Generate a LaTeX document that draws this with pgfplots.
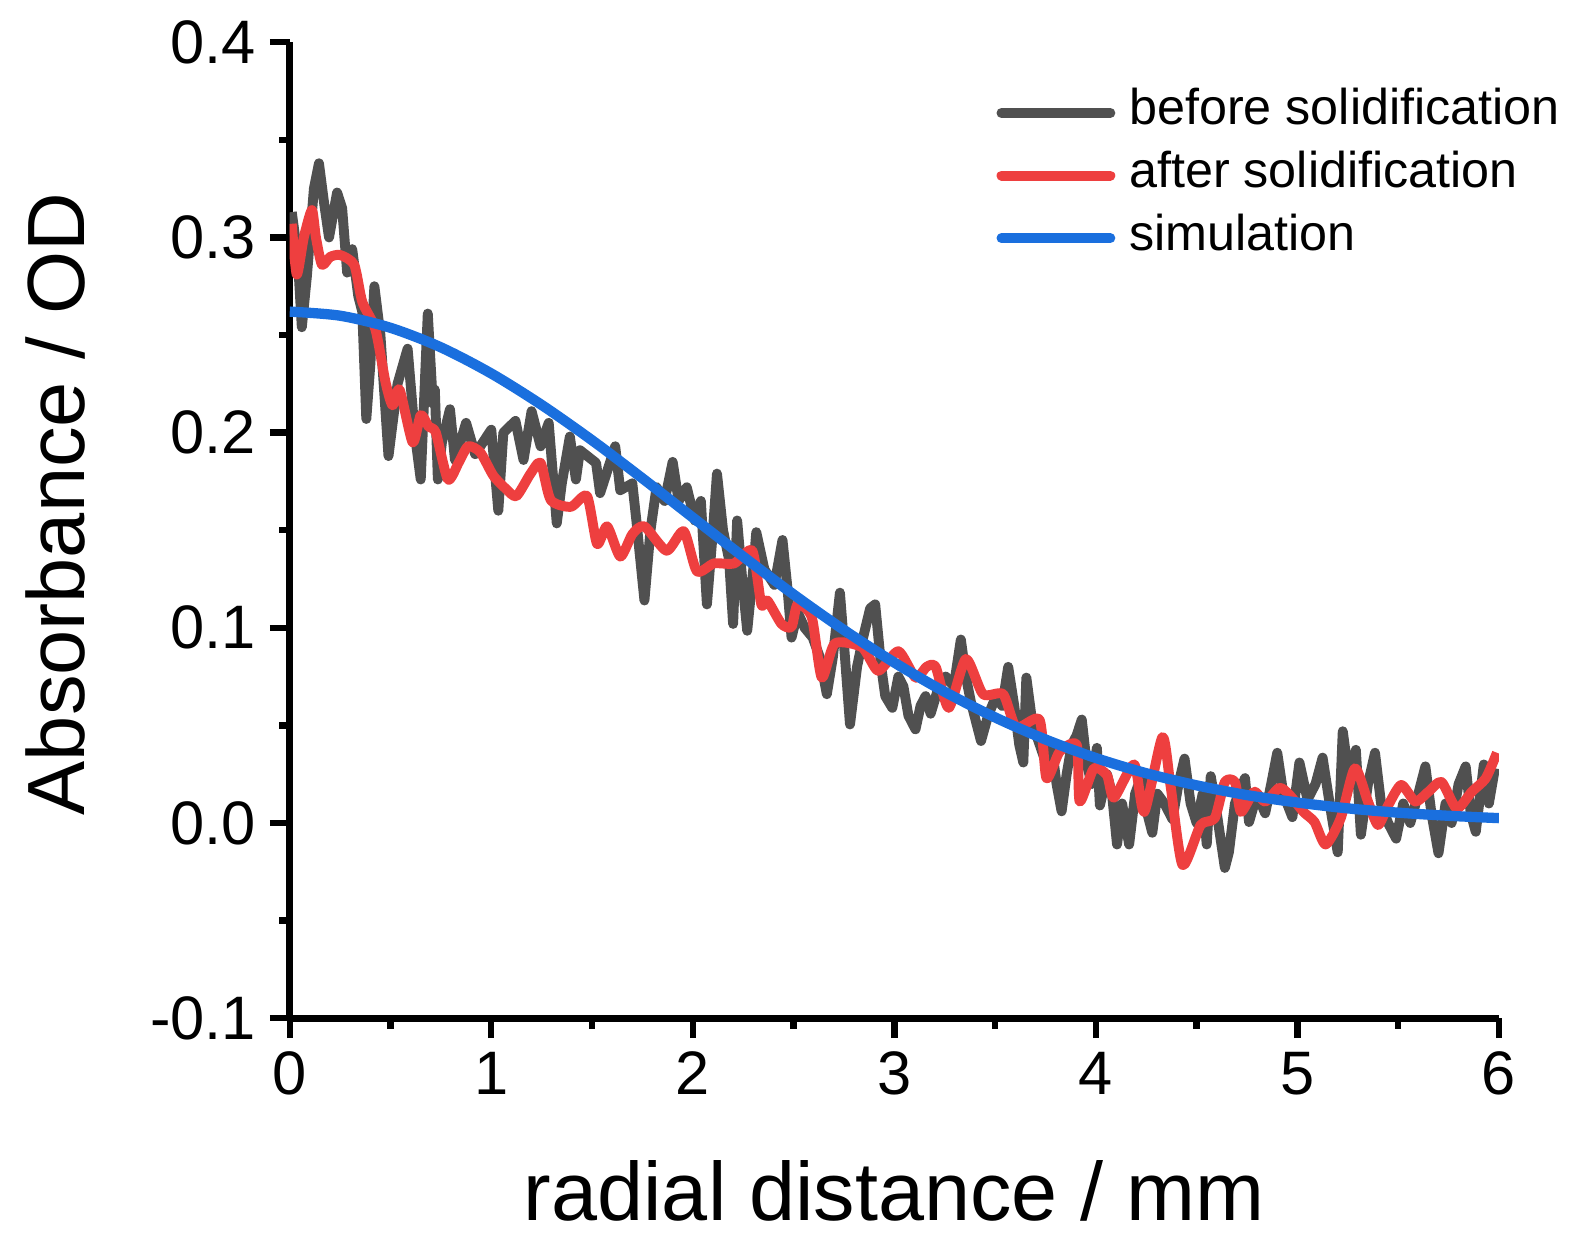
\documentclass[border=0pt]{standalone}
\usepackage{fontspec}
\setmainfont{Liberation Sans}
\usepackage{pgfplots}
\pgfplotsset{compat=1.18}
\definecolor{cgray}{HTML}{505050}
\definecolor{cred}{HTML}{EE3F3F}
\definecolor{cblue}{HTML}{1A6FDE}
\begin{document}
\begin{tikzpicture}
\useasboundingbox (-73.15pt,-58.4pt) rectangle (324.5pt,257.07pt);
\begin{axis}[
  at={(0pt,0pt)}, anchor=south west,
  scale only axis, width=305.3pt, height=246.4pt,
  xmin=0, xmax=6, ymin=-0.1, ymax=0.4,
  axis lines=left, axis line style={-, line width=1.8pt},
  tick align=outside, major tick length=5pt, minor tick length=2.6pt,
  every tick/.style={black, line width=1.6pt},
  xtick={0,1,2,3,4,5,6}, ytick={-0.1,0,0.1,0.2,0.3,0.4},
  minor x tick num=1, minor y tick num=1,
  yticklabels={-0.1,0.0,0.1,0.2,0.3,0.4},
  xticklabels={0,1,2,3,4,5,6},
  tick label style={font=\fontsize{15.5}{18}\selectfont},
  every axis y label/.style={at={(axis description cs:-0.194,0.527)}, rotate=90, anchor=center, font=\fontsize{20.5}{24}\selectfont},
  every axis x label/.style={at={(axis description cs:0.5,-0.207)}, anchor=base, font=\fontsize{20.9}{24}\selectfont},
  xlabel={radial distance / mm},
  ylabel={Absorbance / OD},
  legend image code/.code={\draw[#1, line width=2.5pt, line cap=round] (0pt,0pt) -- (27.5pt,0pt);},
  legend cell align=left,
  legend style={at={(axis description cs:0.574,0.9608)}, anchor=north west, draw=none, fill=none,
    font=\fontsize{12.7}{15}\selectfont, row sep=3.8pt, column sep=3.5pt,
    nodes={inner sep=0pt, text height=9pt, text depth=3pt}},
  line join=round,
]
\addplot[cgray, line width=2.5pt] coordinates {
(0.01,0.313)(0.04,0.290)(0.06,0.254)(0.085,0.280)(0.12,0.325)(0.145,0.338)(0.17,0.318)(0.195,0.300)(0.235,0.323)(0.26,0.315)(0.285,0.282)(0.31,0.294)(0.34,0.270)(0.36,0.262)(0.38,0.207)(0.40,0.235)(0.42,0.275)(0.45,0.250)(0.49,0.188)(0.535,0.225)(0.585,0.243)(0.62,0.200)(0.65,0.176)(0.685,0.261)(0.71,0.215)(0.72,0.222)(0.735,0.176)(0.755,0.195)(0.795,0.212)(0.82,0.186)(0.875,0.205)(0.92,0.189)(1.0,0.2015)(1.035,0.160)(1.06,0.200)(1.12,0.206)(1.16,0.186)(1.2,0.211)(1.245,0.193)(1.285,0.205)(1.325,0.1535)(1.35,0.174)(1.39,0.198)(1.42,0.176)(1.44,0.191)(1.52,0.1845)(1.54,0.169)(1.615,0.193)(1.64,0.1705)(1.70,0.174)(1.72,0.155)(1.76,0.114)(1.79,0.150)(1.82,0.172)(1.86,0.165)(1.90,0.185)(1.93,0.165)(1.97,0.172)(2.01,0.155)(2.04,0.165)(2.07,0.112)(2.10,0.150)(2.12,0.179)(2.15,0.150)(2.18,0.135)(2.20,0.102)(2.22,0.155)(2.245,0.125)(2.27,0.0985)(2.30,0.130)(2.315,0.149)(2.355,0.130)(2.405,0.122)(2.445,0.145)(2.47,0.120)(2.49,0.095)(2.52,0.108)(2.555,0.100)(2.595,0.095)(2.63,0.085)(2.665,0.066)(2.695,0.085)(2.73,0.118)(2.755,0.085)(2.78,0.0505)(2.815,0.080)(2.845,0.095)(2.88,0.110)(2.905,0.112)(2.935,0.080)(2.955,0.065)(2.99,0.059)(3.02,0.075)(3.045,0.070)(3.07,0.055)(3.105,0.048)(3.13,0.060)(3.155,0.065)(3.18,0.056)(3.215,0.068)(3.255,0.075)(3.295,0.070)(3.33,0.094)(3.355,0.075)(3.38,0.062)(3.43,0.042)(3.465,0.055)(3.505,0.065)(3.535,0.060)(3.565,0.080)(3.595,0.060)(3.62,0.040)(3.64,0.031)(3.655,0.0745)(3.68,0.055)(3.705,0.045)(3.755,0.030)(3.78,0.040)(3.805,0.020)(3.83,0.006)(3.855,0.025)(3.88,0.040)(3.905,0.045)(3.93,0.053)(3.955,0.030)(3.98,0.020)(4.005,0.0385)(4.02,0.009)(4.055,0.025)(4.08,0.015)(4.105,-0.011)(4.13,0.010)(4.165,-0.011)(4.195,0.015)(4.23,0.025)(4.255,0.005)(4.28,-0.005)(4.305,0.015)(4.34,0.010)(4.38,0.002)(4.41,0.020)(4.44,0.033)(4.47,0.010)(4.50,0.000)(4.53,0.015)(4.55,-0.011)(4.57,0.024)(4.60,0.005)(4.64,-0.023)(4.66,-0.015)(4.69,0.010)(4.74,0.023)(4.76,0.0005)(4.80,0.015)(4.84,0.005)(4.87,0.020)(4.90,0.036)(4.93,0.015)(4.975,0.003)(5.01,0.031)(5.05,0.012)(5.09,0.020)(5.125,0.0335)(5.16,0.010)(5.20,-0.015)(5.225,0.047)(5.26,0.020)(5.29,0.0375)(5.315,-0.006)(5.35,0.020)(5.385,0.036)(5.415,0.010)(5.45,0.000)(5.49,-0.008)(5.525,0.010)(5.56,0.000)(5.60,0.015)(5.635,0.029)(5.665,0.005)(5.70,-0.0155)(5.735,0.010)(5.765,0.000)(5.80,0.020)(5.835,0.029)(5.86,0.005)(5.885,-0.0045)(5.925,0.030)(5.95,0.010)(5.98,0.028)
};
\addlegendentry{before solidification}
\addplot[cred, line width=2.5pt, smooth, tension=0.4] coordinates {
(0.01,0.307)(0.035,0.281)(0.07,0.300)(0.11,0.314)(0.13,0.300)(0.16,0.286)(0.2,0.290)(0.25,0.291)(0.32,0.286)(0.36,0.267)(0.425,0.253)(0.475,0.226)(0.51,0.214)(0.545,0.222)(0.61,0.195)(0.65,0.209)(0.69,0.203)(0.725,0.200)(0.785,0.176)(0.84,0.185)(0.885,0.193)(0.945,0.190)(1.01,0.178)(1.075,0.171)(1.125,0.1675)(1.195,0.179)(1.245,0.1845)(1.295,0.1655)(1.395,0.162)(1.475,0.1675)(1.525,0.143)(1.575,0.152)(1.64,0.1365)(1.70,0.148)(1.76,0.152)(1.87,0.1395)(1.955,0.1495)(2.02,0.129)(2.105,0.133)(2.205,0.133)(2.295,0.1395)(2.34,0.112)(2.37,0.114)(2.44,0.102)(2.49,0.1005)(2.52,0.112)(2.59,0.1055)(2.64,0.0745)(2.705,0.092)(2.84,0.090)(2.92,0.078)(3.02,0.088)(3.105,0.0745)(3.16,0.080)(3.205,0.080)(3.27,0.059)(3.355,0.084)(3.44,0.066)(3.54,0.066)(3.605,0.049)(3.72,0.053)(3.755,0.023)(3.82,0.0365)(3.905,0.040)(3.92,0.011)(3.99,0.028)(4.055,0.0245)(4.09,0.013)(4.19,0.030)(4.24,0.0057)(4.33,0.044)(4.37,0.0195)(4.43,-0.0215)(4.52,-0.001)(4.59,0.0025)(4.64,0.021)(4.69,0.021)(4.72,0.0057)(4.785,0.016)(4.84,0.011)(4.91,0.018)(4.96,0.0145)(5.03,0.0057)(5.085,0.0005)(5.14,-0.011)(5.215,0.0025)(5.285,0.028)(5.35,0.011)(5.40,-0.001)(5.45,0.009)(5.515,0.0195)(5.585,0.011)(5.65,0.016)(5.715,0.021)(5.79,0.0075)(5.865,0.016)(5.935,0.023)(5.99,0.036)
};
\addlegendentry{after solidification}
\addplot[cblue, line width=2.6pt, smooth] coordinates {
(0,0.2620)(0.25,0.2599)(0.5,0.2537)(0.75,0.2437)(1.0,0.2303)(1.25,0.2142)(1.5,0.1961)(1.75,0.1766)(2.0,0.1565)(2.25,0.1365)(2.5,0.1171)(2.75,0.0989)(3.0,0.0822)(3.25,0.0672)(3.5,0.0541)(3.75,0.0428)(4.0,0.0333)(4.25,0.0255)(4.5,0.0193)(4.75,0.0143)(5.0,0.0105)(5.25,0.0075)(5.5,0.0053)(5.75,0.0037)(6.0,0.0025)
};
\addlegendentry{simulation}
\end{axis}
\end{tikzpicture}
\end{document}
